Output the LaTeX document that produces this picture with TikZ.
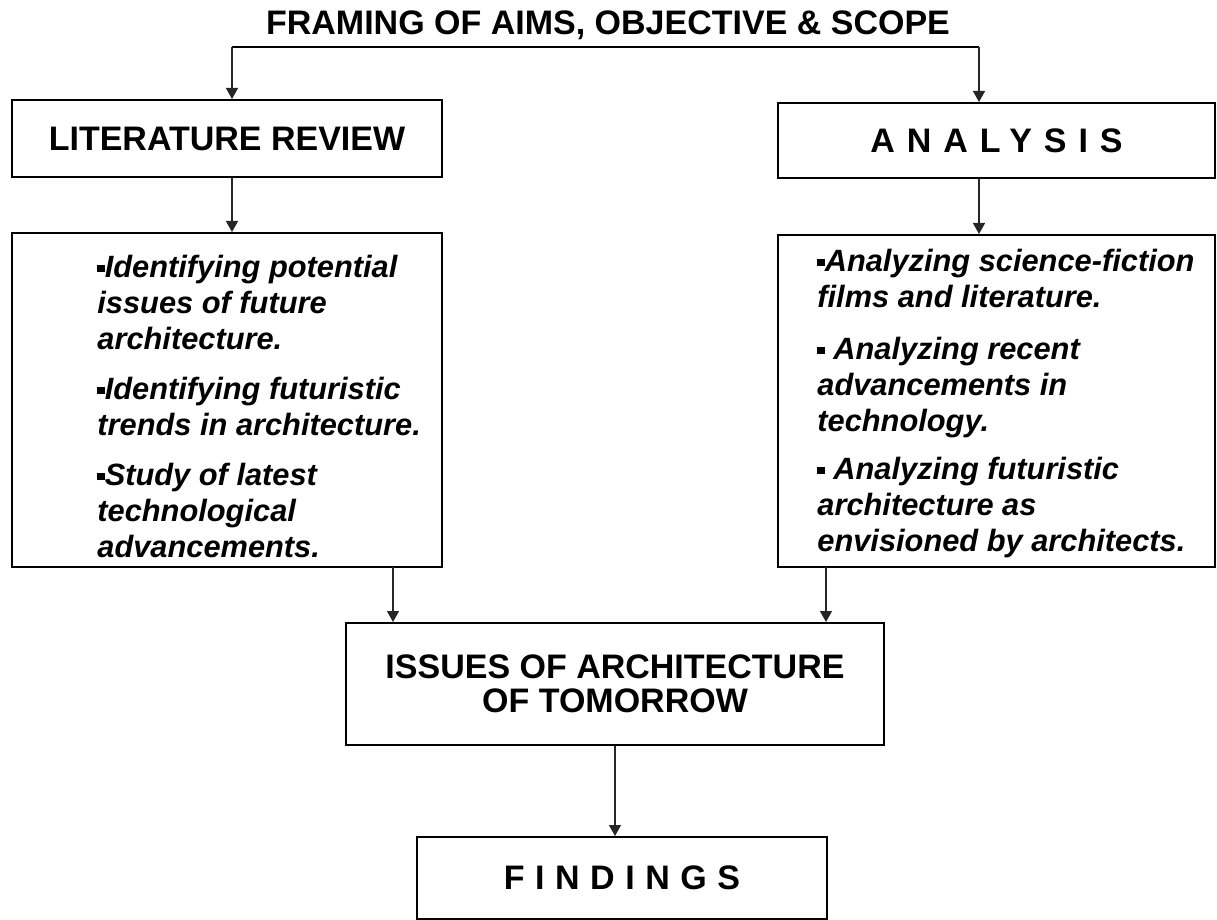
\documentclass[tikz,border=0pt]{standalone}
\usepackage{fontspec}
\setmainfont{Liberation Sans}
\usetikzlibrary{arrows.meta}

% small square bullet
\newcommand{\sqb}{\raisebox{0.17em}{\rule{0.24em}{0.24em}}}

\tikzset{
  box/.style={draw, line width=1pt, inner sep=0pt},
  head/.style={font=\bfseries\fontsize{17}{17}\selectfont, align=center},
  pts/.style={font=\bfseries\itshape\fontsize{15.4}{18}\selectfont, align=left, inner sep=0pt, anchor=north west},
  arr/.style={line width=0.7pt, black!85, -{Triangle[length=5.5pt,width=6pt]}},
}

\begin{document}
\begin{tikzpicture}[x=0.5pt, y=-0.5pt]
\useasboundingbox (0,0) rectangle (1217,920);

% title and the split line under it
\node[head, anchor=base] (title) at (608,35) {FRAMING OF AIMS, OBJECTIVE \& SCOPE};
\coordinate (tl) at (232,47);
\coordinate (tr) at (979,47);
\draw[line width=1pt] (tl) -- (tr);

% headings
\node[box, head, minimum width=215pt, minimum height=38.5pt] (litrev) at (227,138.5) {LITERATURE REVIEW};
\node[box, head, minimum width=218.5pt, minimum height=37.5pt] (analysis) at (996.5,140.5) {\addfontfeature{LetterSpace=35}ANALYSIS};

% boxes with the points
\node[box, minimum width=215pt, minimum height=167pt] (litbox) at (227,400) {};
\node[box, minimum width=218.5pt, minimum height=166pt] (anabox) at (996.5,401) {};

\node[pts] (littext) at (97,255) {\sqb Identifying potential\\ issues of future\\ architecture.\\[7pt]
  \sqb Identifying futuristic\\ trends in architecture.\\[7pt]
  \sqb Study of latest\\ technological\\ advancements.};
\node[pts] (anatext) at (817,249) {\sqb Analyzing science-fiction\\ films and literature.\\[8pt]
  \sqb{} Analyzing recent\\ advancements in\\ technology.\\[6pt]
  \sqb{} Analyzing futuristic\\ architecture as\\ envisioned by architects.};

% lower boxes
\node[box, head, minimum width=269pt, minimum height=61pt] (issues) at (615,684) {ISSUES OF ARCHITECTURE\\ OF TOMORROW};
\node[box, head, minimum width=205pt, minimum height=41pt] (findings) at (622,878) {\addfontfeature{LetterSpace=31}FINDINGS};

% connectors
\draw[arr] (tl) -- (tl |- litrev.north);
\draw[arr] (tr) -- (tr |- analysis.north);
\draw[arr] (litrev.south -| tl) -- (litbox.north -| tl);
\draw[arr] (analysis.south -| tr) -- (anabox.north -| tr);
\coordinate (la) at (393,567);
\coordinate (ra) at (826,567);
\draw[arr] (la) -- (la |- issues.north);
\draw[arr] (ra) -- (ra |- issues.north);
\draw[arr] (issues.south) -- (issues.south |- findings.north);
\end{tikzpicture}
\end{document}
